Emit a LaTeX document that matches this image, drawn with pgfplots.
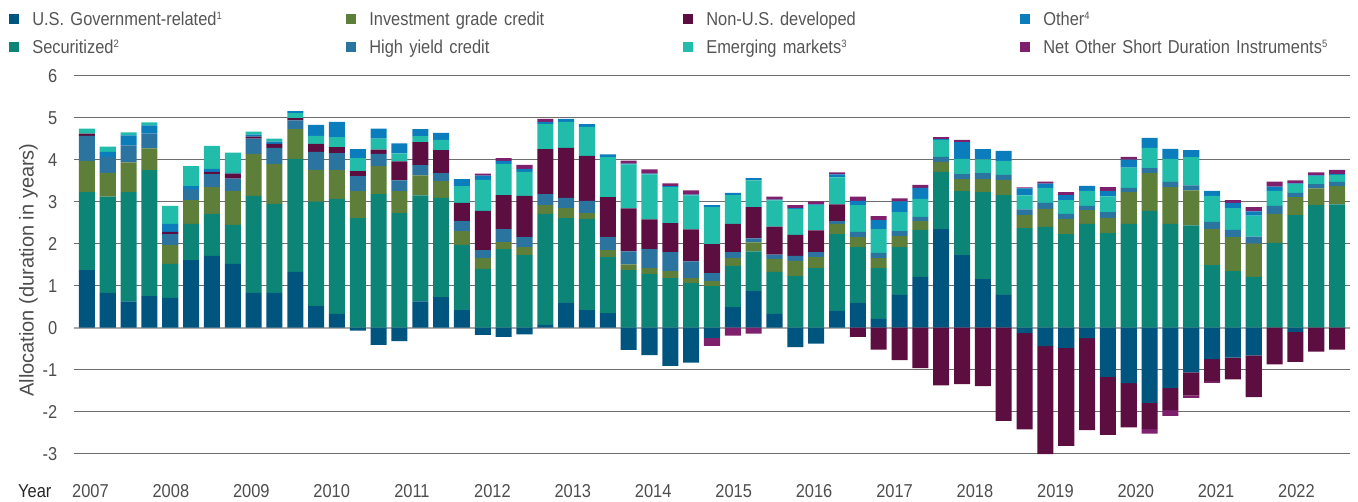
\documentclass[border=0pt]{standalone}
\usepackage{pgfplots}
\pgfplotsset{compat=1.18}
\usepackage{pgfplotstable}
\usepackage{fontspec}
\setmainfont{Liberation Sans}[FakeStretch=0.88]
\newfontfamily\ylabfont{Liberation Sans}
\newcommand{\sups}[1]{\raisebox{4.6pt}{\fontsize{8}{9}\selectfont #1}}
\definecolor{cgov}{HTML}{00557F}
\definecolor{csec}{HTML}{0D8576}
\definecolor{cig}{HTML}{5E7F39}
\definecolor{chy}{HTML}{2C74A0}
\definecolor{cnon}{HTML}{5C0E40}
\definecolor{cem}{HTML}{21BDAA}
\definecolor{coth}{HTML}{0B7DBD}
\definecolor{cnet}{HTML}{7E206B}
\definecolor{gridc}{HTML}{6E6E6E}
\definecolor{zeroc}{HTML}{AAAAAA}
\definecolor{tickc}{HTML}{4D4D4D}
\definecolor{legc}{HTML}{555555}

\pgfplotstableread{
x gov sec ig hy nonus olo em ohi net
0 1.37 1.86 0.74 0.60 0.05 0 0.12 0 0
1 0.83 2.29 0.57 0.38 0 0.12 0.12 0 0
2 0.63 2.60 0.71 0.40 0 0.24 0.07 0 0
3 0.75 3.00 0.52 0.35 0 0.20 0.07 0 0
4 0.71 0.81 0.45 0.26 0.05 0.19 0.43 0 0
5 1.61 0.86 0.57 0.26 0 0.07 0.48 0 0
6 1.71 1.00 0.64 0.31 0.05 0.07 0.55 0 0
7 1.52 0.93 0.81 0.29 0.12 0.02 0.48 0 0
8 0.83 2.31 1.00 0.36 0.05 0.05 0.07 0 0
9 0.83 2.12 0.95 0.38 0.10 0.05 0.07 0 0
10 1.33 2.69 0.71 0.21 0.05 0 0.12 0.05 0
11 0.52 2.48 0.76 0.43 0.19 0 0.19 0.26 0
12 0.33 2.74 0.69 0.40 0.14 0 0.24 0.36 0
13 0 2.61 0.64 0.36 0.12 0 0.31 0.21 0
14 0 3.18 0.67 0.29 0.10 0 0.26 0.24 0
15 0 2.73 0.52 0.26 0.45 0 0.19 0.24 0
16 0.63 2.52 0.48 0.24 0.55 0 0.14 0.17 0
17 0.73 2.36 0.40 0.19 0.55 0 0.24 0.17 0
18 0.42 1.55 0.33 0.24 0.43 0 0.40 0.17 0
19 0 1.40 0.26 0.19 0.93 0 0.74 0.10 0.05
20 0 1.87 0.17 0.31 0.81 0 0.74 0.07 0.07
21 0 1.73 0.19 0.24 0.98 0 0.57 0.07 0.10
22 0.07 2.64 0.21 0.26 1.07 0 0.60 0.05 0.07
23 0.59 2.02 0.24 0.24 1.19 0 0.62 0.07 0
24 0.42 2.17 0.14 0.29 1.07 0 0.69 0.07 0
25 0.35 1.33 0.17 0.31 0.95 0 0.95 0.07 0
26 0 1.37 0.14 0.31 1.02 0 1.05 0.02 0.07
27 0 1.28 0.14 0.45 0.71 0 1.07 0.02 0.10
28 0 1.18 0.17 0.45 0.69 0 0.86 0.02 0.07
29 0 1.06 0.12 0.40 0.76 0 0.81 0.02 0.10
30 0 0.99 0.12 0.19 0.69 0 0.88 0.05 0
31 0.49 0.98 0.19 0.14 0.67 0 0.69 0.05 0
32 0.87 0.95 0.21 0.10 0.74 0 0.64 0.05 0
33 0.33 1.00 0.31 0.10 0.67 0 0.62 0.02 0.07
34 0 1.23 0.36 0.12 0.50 0 0.62 0.02 0.07
35 0 1.42 0.26 0.12 0.52 0 0.60 0.02 0.07
36 0.40 1.83 0.24 0.07 0.40 0 0.64 0.07 0.05
37 0.59 1.33 0.24 0.12 0 0 0.64 0.10 0.10
38 0.21 1.21 0.24 0.12 0 0 0.57 0.21 0.10
39 0.78 1.14 0.26 0.12 0 0 0.45 0.26 0.07
40 1.21 1.12 0.21 0.10 0 0 0.43 0.26 0.07
41 2.35 1.36 0.24 0.12 0 0 0.40 0.02 0.05
42 1.73 1.52 0.29 0.12 0 0 0.36 0.40 0.05
43 1.16 2.07 0.31 0.14 0 0 0.33 0.24 0
44 0.78 2.38 0.36 0.12 0 0 0.33 0.24 0
45 0 2.37 0.31 0.14 0 0 0.33 0.17 0.02
46 0 2.40 0.43 0.14 0 0 0.36 0.10 0.05
47 0 2.23 0.36 0.12 0 0 0.33 0.12 0.07
48 0 2.47 0.33 0.10 0 0 0.36 0.12 0
49 0 2.25 0.36 0.14 0 0 0.38 0.12 0.10
50 0 2.47 0.76 0.10 0 0 0.48 0.19 0.07
51 0 2.78 0.90 0.12 0 0 0.48 0.24 0
52 0 2.47 0.88 0.12 0 0 0.55 0.24 0
53 0 2.44 0.83 0.12 0 0 0.67 0.17 0
54 0 1.49 0.86 0.17 0 0 0.62 0.12 0
55 0 1.35 0.81 0.17 0 0 0.52 0.12 0.07
56 0 1.21 0.79 0.17 0 0 0.50 0.10 0.10
57 0 2.02 0.69 0.19 0 0 0.36 0.10 0.12
58 0 2.68 0.43 0.10 0 0 0.21 0.02 0.07
59 0 2.92 0.40 0.10 0 0 0.19 0.02 0.07
60 0 2.94 0.43 0.10 0 0 0.17 0.02 0.10
}\postab

\pgfplotstableread{
x gov nonus net
0 0 0 0
1 0 0 0
2 0 0 0
3 0 0 0
4 0 0 0
5 0 0 0
6 0 0 0
7 0 0 0
8 0 0 0
9 0 0 0
10 0 0 0
11 0 0 0
12 0 0 0
13 -0.07 0 0
14 -0.41 0 0
15 -0.32 0 0
16 0 0 0
17 0 0 0
18 0 0 0
19 -0.17 0 0
20 -0.22 0 0
21 -0.16 0 0
22 0 0 0
23 0 0 0
24 0 0 0
25 0 0 0
26 -0.53 0 0
27 -0.65 0 0
28 -0.91 0 0
29 -0.83 0 0
30 -0.24 0 -0.19
31 0 0 -0.19
32 0 0 -0.14
33 0 0 0
34 -0.46 0 0
35 -0.38 0 0
36 0 0 0
37 0 -0.22 0
38 0 -0.52 0
39 0 -0.77 0
40 0 -0.96 0
41 0 -1.37 0
42 0 -1.34 0
43 0 -1.39 0
44 0 -2.22 0
45 -0.13 -2.29 0
46 -0.44 -2.57 0
47 -0.48 -2.33 0
48 -0.25 -2.19 0
49 -1.17 -1.38 0
50 -1.32 -1.05 0
51 -1.79 -0.62 -0.11
52 -1.44 -0.52 -0.14
53 -1.06 -0.55 -0.06
54 -0.75 -0.52 -0.04
55 -0.71 -0.52 0
56 -0.66 -0.99 0
57 0 -0.87 0
58 -0.10 -0.71 0
59 0 -0.57 0
60 0 -0.52 0
}\negtab

\begin{document}
\begin{tikzpicture}
\useasboundingbox (-55.5pt,-36.2pt) rectangle (963pt,340.3pt);
\pgfplotsset{base/.style={scale only axis, width=957pt, height=283.5pt,
  xmin=-0.62, xmax=60.62, ymin=-3, ymax=6, ybar stacked, bar width=0.77, clip=false}}
\begin{axis}[base,
  axis line style={draw=none}, tick style={draw=none}, major tick length=0pt,
  ytick={-3,-2,-1,0,1,2,3,4,5,6},
  ymajorgrids, grid style={draw=gridc, line width=0.9pt},
  extra y ticks={0}, extra y tick labels={},
  extra y tick style={grid=major, major grid style={draw=zeroc, line width=1.6pt}},
  xtick={0.17,4.03,7.89,11.75,15.60,19.46,23.32,27.18,31.04,34.90,38.76,42.62,46.48,50.34,54.19,58.05},
  xticklabels={2007,2008,2009,2010,2011,2012,2013,2014,2015,2016,2017,2018,2019,2020,2021,2022},
  /pgf/number format/assume math mode=true,
  tick label style={font=\fontsize{14}{16}\selectfont, text=tickc},
  yticklabel style={anchor=east, inner sep=0pt, xshift=-12.4pt},
  xticklabel style={anchor=base, inner sep=0pt, yshift=-32.6pt},
  ylabel={\ylabfont\fontsize{15}{18}\selectfont Allocation (duration in years)},
  every axis y label/.style={at={(axis description cs:-0.0357,0.486)}, rotate=90, anchor=center, text=tickc},
  legend columns=4,
  legend cell align=left,
  legend image code/.code={\fill[#1] (0pt,-3.75pt) rectangle (7.5pt,3.75pt); \path (0pt,0pt) (17.25pt,0pt);},
  legend style={draw=none, fill=none, at={(axis description cs:-0.0509,1.1127)}, anchor=west,
    column sep=0pt, row sep=4pt, inner sep=0pt,
    nodes={text width=235.5pt, inner xsep=0pt, inner ysep=0pt, text height=13.5pt, text depth=3.5pt,
      font=\fontsize{14}{16}\selectfont, text=legc, align=left}},
]
\addlegendimage{fill=cgov, draw=none}\addlegendentry{U.S. Government-related\sups{1}}
\addlegendimage{fill=cig, draw=none}\addlegendentry{Investment grade credit}
\addlegendimage{fill=cnon, draw=none}\addlegendentry{Non-U.S. developed}
\addlegendimage{fill=coth, draw=none}\addlegendentry{Other\sups{4}}
\addlegendimage{fill=csec, draw=none}\addlegendentry{Securitized\sups{2}}
\addlegendimage{fill=chy, draw=none}\addlegendentry{High yield credit}
\addlegendimage{fill=cem, draw=none}\addlegendentry{Emerging markets\sups{3}}
\addlegendimage{fill=cnet, draw=none}\addlegendentry{Net Other Short Duration Instruments\sups{5}}
\addplot[fill=cgov, draw=none] table[x=x, y=gov] {\postab};
\addplot[fill=csec, draw=none] table[x=x, y=sec] {\postab};
\addplot[fill=cig, draw=none] table[x=x, y=ig] {\postab};
\addplot[fill=chy, draw=none] table[x=x, y=hy] {\postab};
\addplot[fill=cnon, draw=none] table[x=x, y=nonus] {\postab};
\addplot[fill=coth, draw=none] table[x=x, y=olo] {\postab};
\addplot[fill=cem, draw=none] table[x=x, y=em] {\postab};
\addplot[fill=coth, draw=none] table[x=x, y=ohi] {\postab};
\addplot[fill=cnet, draw=none] table[x=x, y=net] {\postab};
\node[anchor=base, inner sep=0pt, yshift=-32.6pt, font=\fontsize{14}{16}\selectfont, text=black!85] at (axis cs:-2.5,-3) {Year};
\end{axis}
\begin{axis}[base, hide axis]
\addplot[fill=cgov, draw=none] table[x=x, y=gov] {\negtab};
\addplot[fill=cnon, draw=none] table[x=x, y=nonus] {\negtab};
\addplot[fill=cnet, draw=none] table[x=x, y=net] {\negtab};
\end{axis}
\end{tikzpicture}
\end{document}
